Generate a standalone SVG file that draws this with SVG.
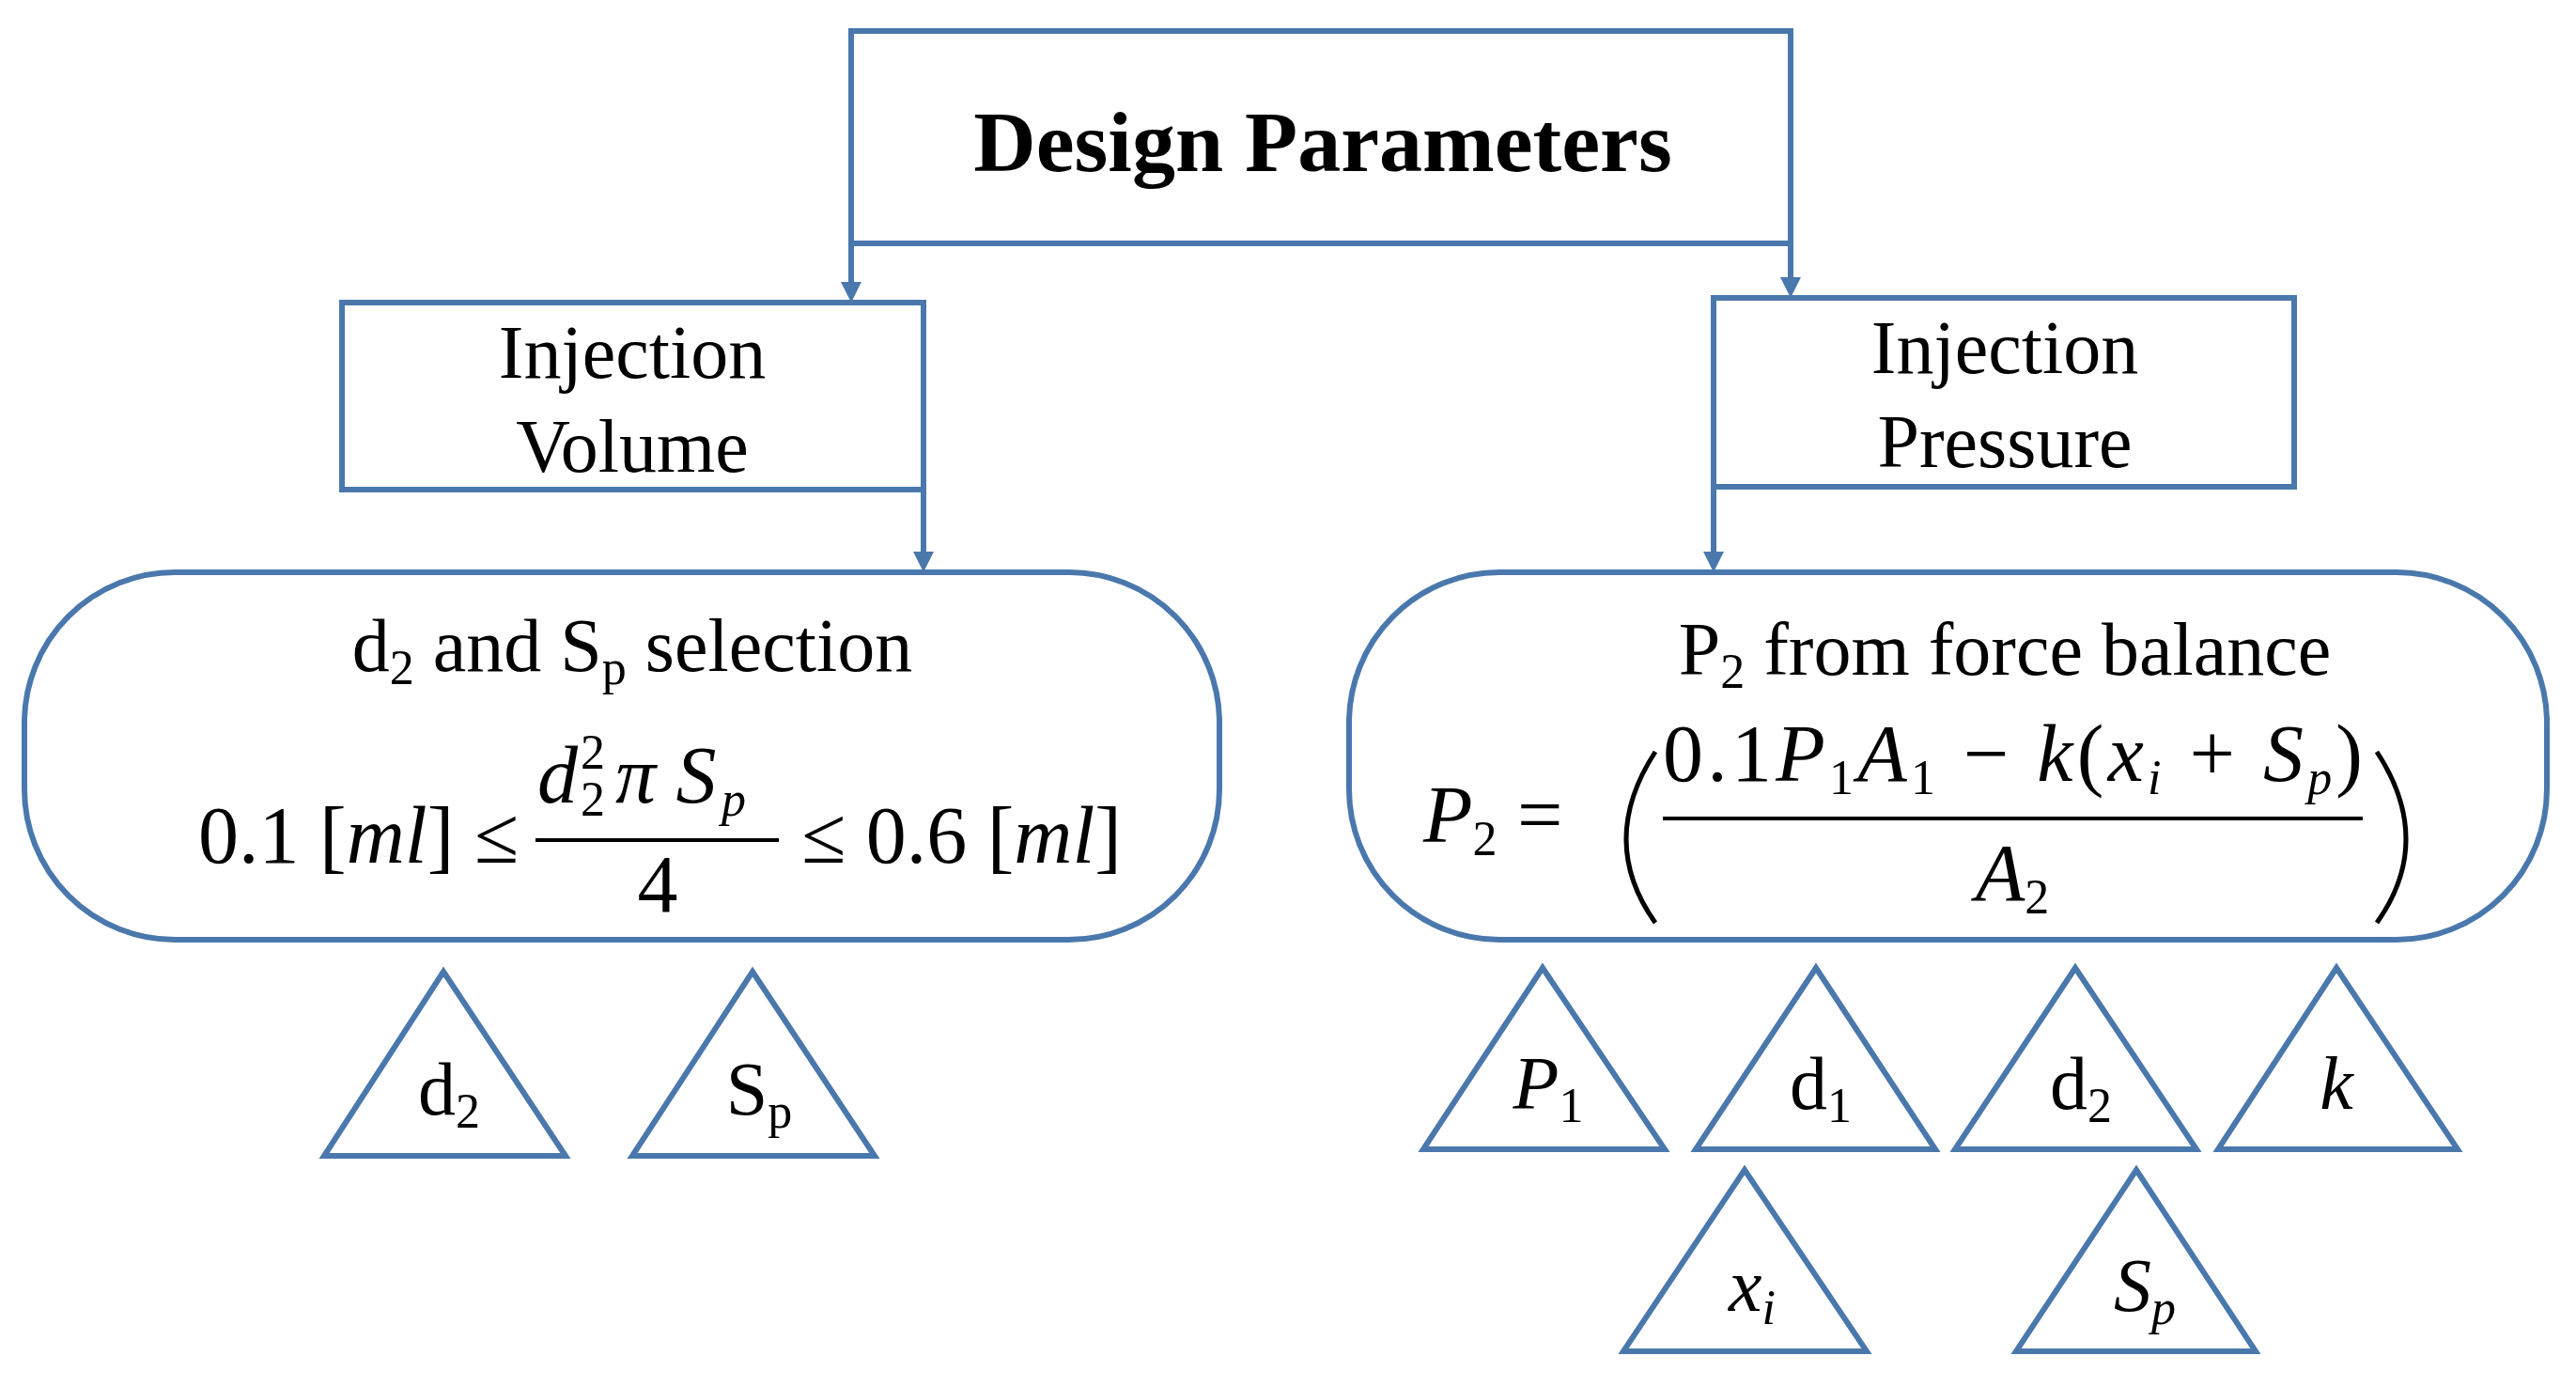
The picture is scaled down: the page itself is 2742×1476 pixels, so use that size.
<svg xmlns="http://www.w3.org/2000/svg" width="2742" height="1476" viewBox="0 0 2742 1476">
<defs>
<style>
.s{fill:none;stroke:#4a78ad;stroke-width:6}
.t{fill:#4a78ad;stroke:none}
text{font-family:"Liberation Serif","Times New Roman",serif;fill:#000;font-size:80px}
.m{font-style:italic}
.c{text-anchor:middle}
.e{text-anchor:end}
.f{font-size:86px}
.sm{font-size:52px}
.h{font-size:92px;font-weight:bold}
</style>
</defs>
<rect width="2742" height="1476" fill="#fff"/>
<g id="connectors">
<path class="s" d="M906,259 V306"/><path class="t" d="M895,300 L917,300 906,322 Z"/>
<path class="s" d="M1906,259 V301"/><path class="t" d="M1895,295 L1917,295 1906,317 Z"/>
<path class="s" d="M983,521 V593"/><path class="t" d="M972,587 L994,587 983,609 Z"/>
<path class="s" d="M1824,518 V593"/><path class="t" d="M1813,587 L1835,587 1824,609 Z"/>
</g>
<g id="design"><rect class="s" x="906" y="33" width="1000" height="226"/>
<text class="c h" x="1408" y="182">Design Parameters</text></g>
<g id="volume"><rect class="s" x="364" y="322" width="619" height="199"/>
<text class="c" x="673" y="402">Injection</text><text class="c" x="673" y="502">Volume</text></g>
<g id="pressure"><rect class="s" x="1824" y="317" width="618" height="201"/>
<text class="c" x="2134" y="397">Injection</text><text class="c" x="2134" y="497">Pressure</text></g>
<g id="selection"><rect class="s" x="26" y="609" width="1272" height="391" rx="160"/>
<text class="c" x="673" y="714">d<tspan font-size="52" dy="14">2</tspan><tspan dy="-14"> and S</tspan><tspan font-size="52" dy="14">p</tspan><tspan dy="-14"> selection</tspan></text>
<text class="e f" x="552" y="918">0.1 [<tspan class="m">ml</tspan>] ≤</text>
<text class="m f" x="572" y="854">d</text>
<text class="sm" x="618" y="818">2</text>
<text class="sm" x="618" y="868">2</text>
<text class="m f" x="655" y="854">π S</text>
<text class="m sm" x="768" y="868">p</text>
<path d="M570,894 H829" stroke="#000" stroke-width="4"/>
<text class="c f" x="700" y="970">4</text>
<text class="f" x="853" y="918">≤ 0.6 [<tspan class="m">ml</tspan>]</text></g>
<g id="balance"><rect class="s" x="1436" y="609" width="1275" height="391" rx="160"/>
<text class="c" x="2134" y="718">P<tspan font-size="52" dy="14">2</tspan><tspan dy="-14"> from force balance</tspan></text>
<text class="f" x="1515" y="896"><tspan class="m">P</tspan><tspan font-size="52" dy="14">2</tspan><tspan dy="-14"> =</tspan></text>
<path d="M1762,800 Q1700,895 1762,982" fill="none" stroke="#000" stroke-width="5"/>
<path d="M2530,800 Q2592,895 2530,982" fill="none" stroke="#000" stroke-width="5"/>
<text class="f" x="1770" y="831" textLength="745" lengthAdjust="spacing">0.1<tspan class="m">P</tspan><tspan font-size="52" dy="14">1</tspan><tspan class="m" dy="-14">A</tspan><tspan font-size="52" dy="14">1</tspan><tspan dy="-14"> − </tspan><tspan class="m">k</tspan>(<tspan class="m">x</tspan><tspan class="m" font-size="52" dy="14">i</tspan><tspan dy="-14"> + </tspan><tspan class="m">S</tspan><tspan class="m" font-size="52" dy="14">p</tspan><tspan dy="-14">)</tspan></text>
<path d="M1770,871 H2515" stroke="#000" stroke-width="4"/>
<text class="c f" x="2142" y="958"><tspan class="m">A</tspan><tspan font-size="52" dy="14">2</tspan></text></g>
<g id="tri-d2a"><path class="s" d="M472,1034 L602,1230 345,1230 Z"/><text class="c" x="478" y="1186">d<tspan font-size="52" dy="14">2</tspan></text></g>
<g id="tri-spa"><path class="s" d="M801,1034 L931,1230 673,1230 Z"/><text class="c" x="808" y="1186">S<tspan font-size="52" dy="14">p</tspan></text></g>
<g id="tri-p1"><path class="s" d="M1642,1030 L1772,1223 1515,1223 Z"/><text class="c" x="1648" y="1180"><tspan class="m">P</tspan><tspan font-size="52" dy="14">1</tspan></text></g>
<g id="tri-d1"><path class="s" d="M1933,1030 L2060,1223 1805,1223 Z"/><text class="c" x="1938" y="1180">d<tspan font-size="52" dy="14">1</tspan></text></g>
<g id="tri-d2b"><path class="s" d="M2209,1030 L2338,1223 2081,1223 Z"/><text class="c" x="2215" y="1180">d<tspan font-size="52" dy="14">2</tspan></text></g>
<g id="tri-k"><path class="s" d="M2487,1030 L2616,1223 2361,1223 Z"/><text class="c m" x="2487" y="1180">k</text></g>
<g id="tri-xi"><path class="s" d="M1857,1245 L1987,1438 1728,1438 Z"/><text class="c" x="1865" y="1395"><tspan class="m">x</tspan><tspan class="m" font-size="52" dy="14">i</tspan></text></g>
<g id="tri-spb"><path class="s" d="M2274,1245 L2401,1438 2146,1438 Z"/><text class="c" x="2283" y="1395"><tspan class="m">S</tspan><tspan class="m" font-size="52" dy="14">p</tspan></text></g>
</svg>
